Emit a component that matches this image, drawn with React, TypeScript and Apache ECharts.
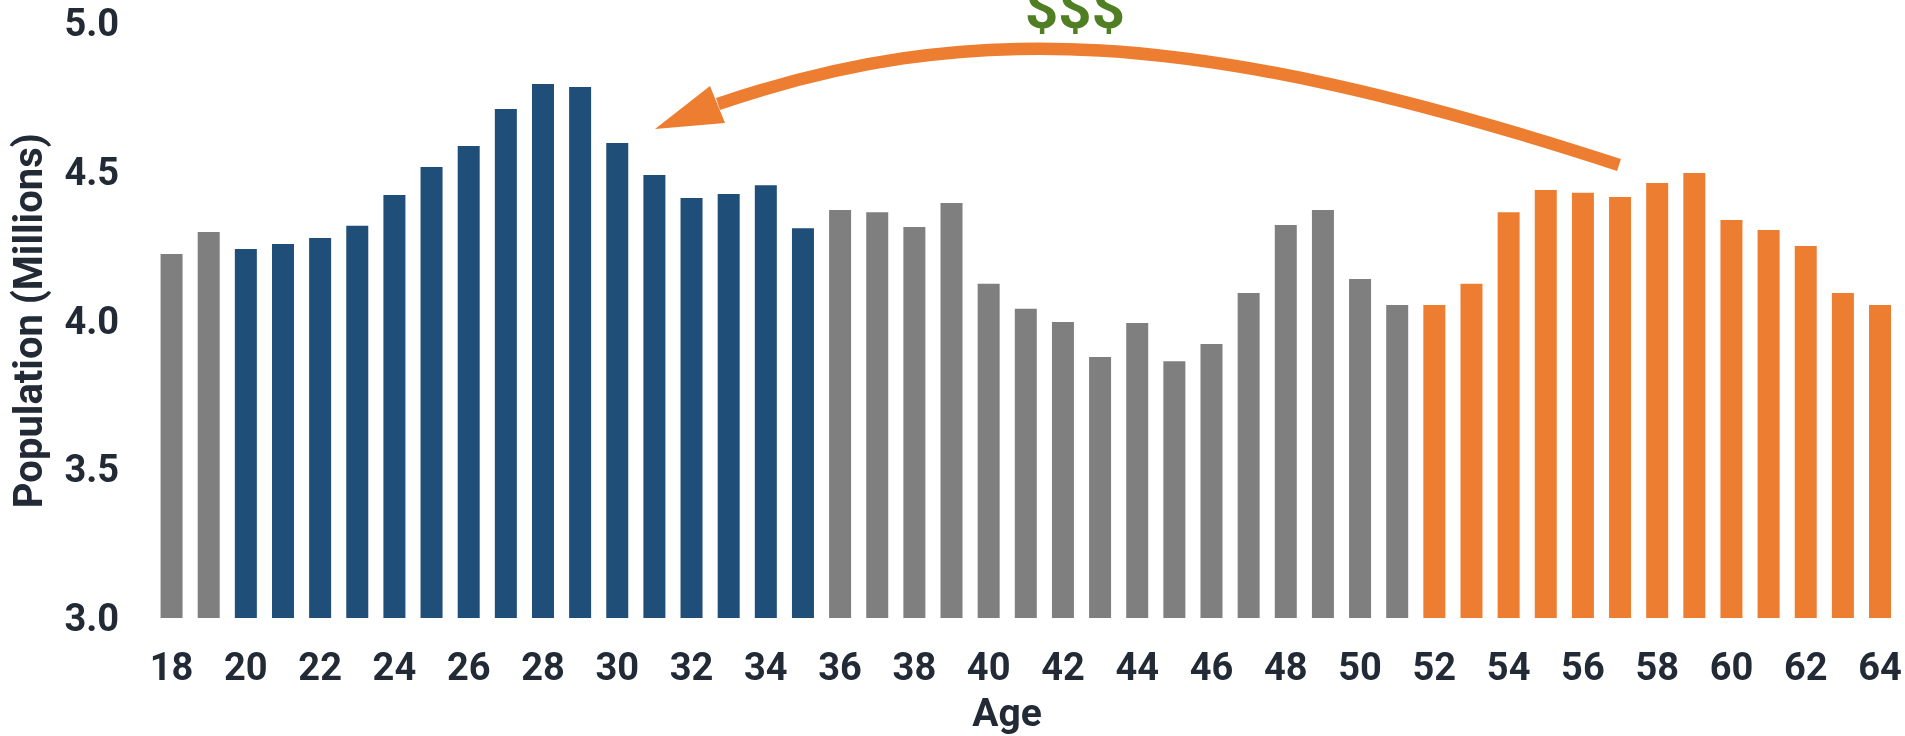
import React, { useEffect, useRef } from "react";
import * as echarts from "echarts";

const ages: string[] = [
  "18","19","20","21","22","23","24","25","26","27","28","29","30","31","32","33",
  "34","35","36","37","38","39","40","41","42","43","44","45","46","47","48","49",
  "50","51","52","53","54","55","56","57","58","59","60","61","62","63","64",
];

// Population in millions, by single year of age
const population: number[] = [
  4.224, 4.298, 4.241, 4.258, 4.278, 4.319, 4.423, 4.517, 4.588, 4.712, 4.796, 4.786,
  4.598, 4.49, 4.413, 4.426, 4.456, 4.311, 4.372, 4.365, 4.315, 4.396, 4.124, 4.04,
  3.996, 3.878, 3.992, 3.864, 3.922, 4.093, 4.322, 4.372, 4.14, 4.053, 4.053, 4.124,
  4.365, 4.44, 4.43, 4.416, 4.463, 4.497, 4.339, 4.305, 4.251, 4.093, 4.053,
];

// Group of each age: "other", "young" (20-35), "older" (52-64)
const groups: string[] = ages.map((a) => {
  const n = Number(a);
  if (n >= 20 && n <= 35) return "young";
  if (n >= 52) return "older";
  return "other";
});

const yTicks: number[] = [3.0, 3.5, 4.0, 4.5, 5.0];

const COLORS: Record<string, string> = {
  other: "#7f7f7f",
  young: "#1f4e79",
  older: "#ed7d31",
};

const FONT = "Roboto";
const TEXT = "#222a36";

export default function App() {
  const ref = useRef<HTMLDivElement>(null);

  useEffect(() => {
    if (!ref.current) return;
    const chart = echarts.init(ref.current, undefined, { renderer: "svg" });
    const option: any = {
      animation: false,
      grid: { left: 151.6, right: 6.4, top: 23.4, bottom: 118, containLabel: false },
      xAxis: {
        type: "category",
        data: ages,
        axisLine: { show: false },
        axisTick: { show: false },
        axisLabel: {
          interval: 1,
          margin: 30,
          fontFamily: FONT,
          fontWeight: "bold",
          fontSize: 38,
          color: TEXT,
        },
      },
      yAxis: {
        type: "value",
        min: yTicks[0],
        max: yTicks[yTicks.length - 1],
        interval: 0.5,
        splitLine: { show: false },
        axisLine: { show: false },
        axisTick: { show: false },
        axisLabel: {
          margin: 34,
          fontFamily: FONT,
          fontWeight: "bold",
          fontSize: 38,
          color: TEXT,
          formatter: (v: number) => v.toFixed(1),
        },
        name: "Population (Millions)",
        nameLocation: "middle",
        nameGap: 105,
        nameTextStyle: {
          fontFamily: FONT,
          fontWeight: "bold",
          fontSize: 40,
          color: TEXT,
        },
      },
      series: [
        {
          type: "bar",
          barWidth: 22,
          data: population.map((v, i) => ({
            value: v,
            itemStyle: { color: COLORS[groups[i]] },
          })),
        },
      ],
      graphic: [
        {
          type: "bezierCurve",
          z: 100,
          shape: {
            x1: 1619, y1: 165,
            cpx1: 1190, cpy1: 25,
            cpx2: 965, cpy2: 20,
            x2: 718, y2: 104,
          },
          style: { stroke: "#ed7d31", lineWidth: 12.5, fill: null },
        },
        {
          type: "polygon",
          z: 100,
          shape: { points: [[655, 129], [710, 86], [725, 123]] },
          style: { fill: "#ed7d31" },
        },
        {
          type: "text",
          z: 100,
          x: 1075,
          y: 8,
          style: {
            text: "$$$",
            fontFamily: FONT,
            fontWeight: "bold",
            fontSize: 58,
            fill: "#4f7f22",
            textAlign: "center",
            textVerticalAlign: "middle",
          },
        },
        {
          type: "text",
          z: 100,
          x: 1007,
          y: 713,
          style: {
            text: "Age",
            fontFamily: FONT,
            fontWeight: "bold",
            fontSize: 39,
            fill: TEXT,
            textAlign: "center",
            textVerticalAlign: "middle",
          },
        },
      ],
    };
    chart.setOption(option);
    return () => chart.dispose();
  }, []);

  return (
    <div
      ref={ref}
      style={{ position: "fixed", left: 0, top: 0, width: 1905, height: 736 }}
    />
  );
}
